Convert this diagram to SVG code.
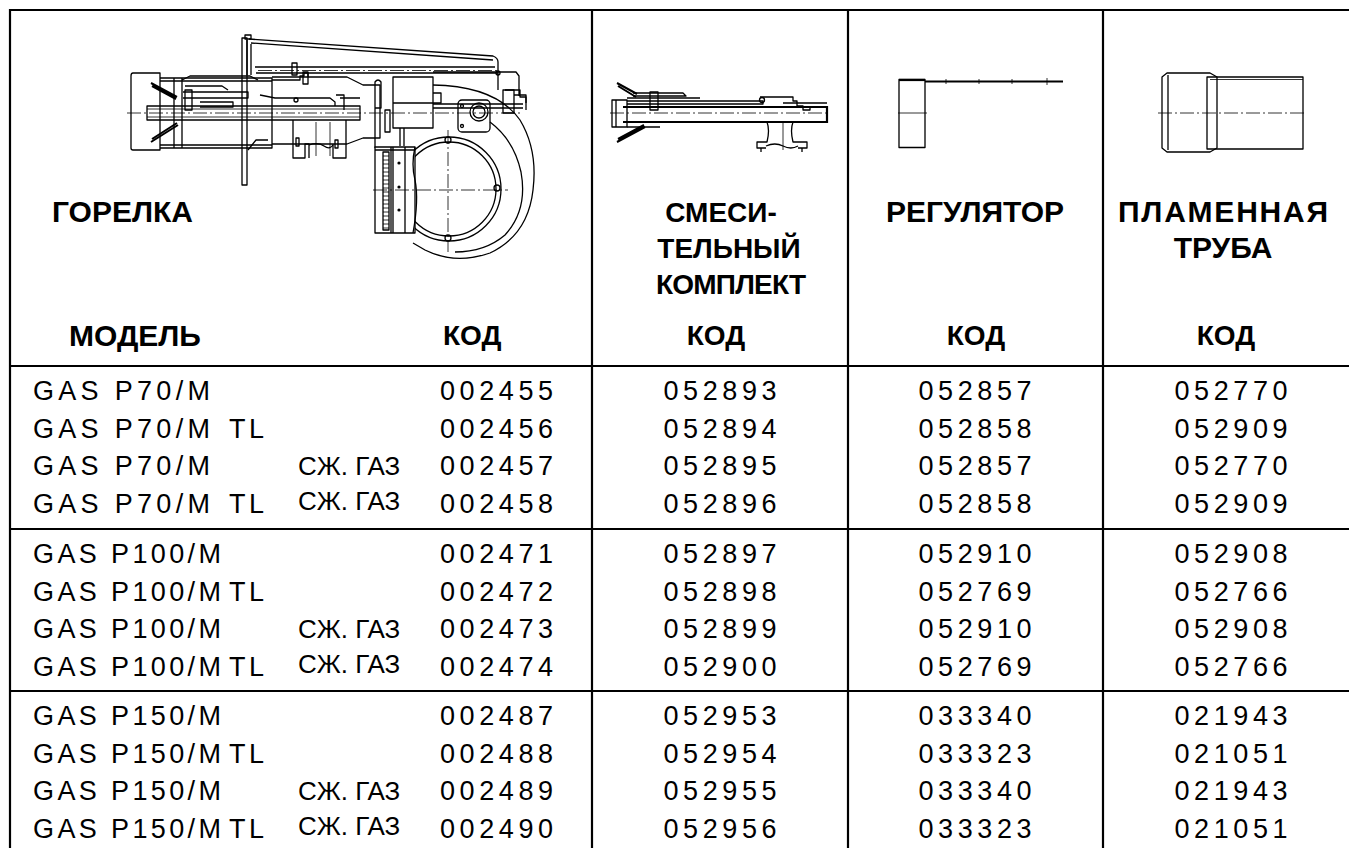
<svg xmlns="http://www.w3.org/2000/svg" width="1349" height="848" viewBox="0 0 1349 848">
<style>
.grid{stroke:#000;stroke-width:2.2;fill:none}
.h{font-family:"Liberation Sans",Arial,sans-serif;font-weight:bold;font-size:30px;fill:#000}
.k{font-family:"Liberation Sans",Arial,sans-serif;font-weight:bold;font-size:28px;fill:#000}
.d{font-family:"Liberation Sans",Arial,sans-serif;font-size:27px;fill:#000}
.g{font-family:"Liberation Sans",Arial,sans-serif;font-size:26px;fill:#000}
.c{text-anchor:middle}
.dr{stroke:#000;stroke-width:1.3;fill:none;stroke-linejoin:round}
.th{stroke:#000;stroke-width:2.2;fill:none}
.tn{stroke:#000;stroke-width:0.8;fill:none}
.cl{stroke:#000;stroke-width:0.8;fill:none;stroke-dasharray:14 3 2 3}
.fw{fill:#fff}
</style>
<rect width="1349" height="848" fill="#fff"/>

<g id="table-grid" class="grid">
<path d="M10 848V10H1349"/>
<path d="M592 10V848M848 10V848M1103 10V848"/>
<path d="M10 366H1349M10 529H1349M10 691H1349"/>
</g>

<g id="burner-drawing">
<rect class="dr" x="242" y="38" width="5" height="147"/>
<rect class="dr" x="245" y="35" width="6" height="4"/>
<path class="dr" d="M247 40V75M251 44V75M248 150L256 140H268"/>
<path class="dr" d="M249 39L493 56Q498 58 498 62V73M251 43L493 60"/>
<circle class="dr" cx="498" cy="73" r="2"/>
<path class="dr" d="M255 67H495M256 73H498"/>
<path class="cl" d="M258 70.5H498"/>
<path class="dr" d="M433 72H516L519 76V96M498 73V90M505 90H520V97H526V103"/>
<path class="dr" d="M133 73H160V150H133Q131 150 131 148V76Q131 73 133 73Z"/>
<path class="dr" d="M160 78H272V148H160"/>
<path class="dr" d="M160 81H272M160 145H272M182 78V148M174 78V148"/>
<path class="dr" d="M182 80L190 76H250L258 80"/>
<path class="th" d="M151 83L177 97M152 86L176 99M151 142L178 125M152 139L177 123" style="stroke-width:2"/>
<path class="dr" d="M147 106H360V120H147Z"/>
<path class="tn" d="M147 109H360M147 117H360"/>
<path class="dr" d="M183 92H248V98H183M200 102H233V107H200"/>
<rect class="dr" x="185" y="90" width="7" height="20"/>
<path class="dr" d="M185 86H222L228 90M260 95L275 98H330L335 102V106"/>
<path class="cl" d="M127 113H520"/>
<path class="dr" d="M272 77H347L363 85H380V138H363L347 144H272"/>
<path class="dr" d="M272 80H300V76H304V73H308V77"/>
<rect class="dr" x="292" y="63" width="5" height="12"/>
<rect class="dr" x="303" y="72" width="5" height="12"/>
<path class="dr" d="M340 98H360M336 95H344V110"/>
<path class="dr" d="M293 120V158H305V144H309V158M346 120V158H333V144"/>
<path class="dr" d="M309 145Q318 142 324 146T333 145"/>
<path class="tn" d="M316 122V156M330 122V156"/>
<rect class="dr" x="296" y="138" width="3" height="8"/>
<rect class="dr" x="335" y="140" width="3" height="8"/>
<circle class="dr" cx="296" cy="100" r="2"/>
<path class="dr" d="M375 148V82Q378 78 381 82V108H375"/>
<rect class="dr" x="385" y="110" width="5" height="22"/>
<rect class="dr" x="393" y="77" width="40" height="51"/>
<path class="dr" d="M393 103H433M433 93H441V103H433"/>
<path class="dr" d="M433 104H523M433 108H523"/>
<path class="dr" d="M400 128V146M404 128V146"/>
<rect class="dr" x="458" y="100" width="32" height="32" rx="4"/>
<circle class="dr" cx="479" cy="112" r="9"/>
<circle class="dr" cx="479" cy="112" r="6"/>
<circle class="dr" cx="462" cy="106" r="1.5"/>
<circle class="dr" cx="462" cy="126" r="1.5"/>
<path class="dr" d="M503 90H514V113H503ZM514 95H526V110"/>
<path class="dr" d="M433 85Q496 86 520 120Q538 150 533 190Q528 235 490 253Q455 265 425 250L413 243"/>
<path class="dr" d="M490 122Q514 140 521 172Q528 210 505 235Q485 252 455 252"/>
<circle class="dr" cx="449" cy="189" r="52"/>
<circle class="dr" cx="449" cy="189" r="47"/>
<rect class="dr fw" x="375" y="147" width="40" height="86"/>
<path class="dr" d="M391 147V233M393 147V233M405 147V233M375 150H415"/>
<path class="dr" d="M383 152V230H389V152Z"/>
<path class="tn" d="M383 156H389M383 160H389M383 164H389M383 168H389M383 172H389M383 176H389M383 180H389M383 184H389M383 188H389M383 192H389M383 196H389M383 200H389M383 204H389M383 208H389M383 212H389M383 216H389M383 220H389M383 224H389M383 228H389"/>
<circle cx="399" cy="163" r="1.6"/>
<circle cx="399" cy="187" r="1.6"/>
<circle cx="399" cy="210" r="1.6"/>
<path class="dr" d="M415 147Q411 165 415 180Q419 200 413 233"/>
<path class="cl" d="M448 130V252M373 190H508"/>
<circle class="dr" cx="448" cy="140" r="3"/>
<circle class="dr" cx="448" cy="238" r="3"/>
<circle class="dr" cx="497" cy="188" r="3"/>
</g>

<g id="mixing-kit-drawing">
<path class="dr" d="M612 100H627V127H612Z"/>
<path class="dr" d="M616 100V127"/>
<path class="th" d="M617 83L637 94M618 86L636 97M617 142L645 127M618 139L644 125" style="stroke-width:2"/>
<path class="th" d="M623 107H827V122H623"/>
<path class="cl" d="M610 113H827"/>
<path class="dr" d="M627 101H763V104H627M633 93H683L686 96H633"/>
<rect class="dr" x="650" y="92" width="8" height="18"/>
<path class="dr" d="M627 98H700M627 127H660"/>
<path class="dr" d="M760 97H793V101H797V106H803V110H810V107"/>
<circle class="dr" cx="762" cy="100" r="2.5"/>
<path class="dr" d="M783 103H827"/>
<path class="dr" d="M767 122Q770 130 767 142H757V148H766M793 122Q790 130 793 142H807V148H798"/>
<path class="dr" d="M766 146Q775 142 783 146T798 146"/>
<path class="tn" d="M783 122V150"/>
<path class="dr" d="M761 148V152M802 148V152"/>
</g>

<g id="regulator-drawing">
<rect class="dr" x="899" y="79.5" width="26" height="68"/>
<path class="th" d="M899 80H925"/>
<path class="th" d="M925 81.5H1063" style="stroke-width:1.8"/>
<path class="tn" d="M946 79V84M979 79V84M1012 79V84M1047 78V85"/>
<path class="tn" d="M898 113H927"/>
</g>

<g id="flame-tube-drawing">
<path class="dr" d="M1162 77L1167 73H1210L1217 77V148L1210 152H1167L1162 148Z"/>
<path class="dr" d="M1168 75V150"/>
<path class="dr" d="M1207 77H1303V149H1207Z"/>
<path class="tn" d="M1210 79.5H1303"/>
<path class="cl" d="M1158 113H1307"/>
</g>

<g id="header-burner">
<text class="h" x="52" y="222">ГОРЕЛКА</text>
<text class="h" x="69" y="346">МОДЕЛЬ</text>
<text class="k" x="443" y="345">КОД</text>
</g>
<g id="header-mixing">
<text class="k c" x="721" y="222">СМЕСИ-</text>
<text class="k c" x="729" y="258">ТЕЛЬНЫЙ</text>
<text class="k c" x="731" y="294" textLength="150">КОМПЛЕКТ</text>
<text class="k c" x="716" y="345">КОД</text>
</g>
<g id="header-regulator">
<text class="h c" x="975" y="222">РЕГУЛЯТОР</text>
<text class="k c" x="976" y="345">КОД</text>
</g>
<g id="header-flame-tube">
<text class="h c" x="1223" y="222" textLength="210">ПЛАМЕННАЯ</text>
<text class="h c" x="1223" y="258">ТРУБА</text>
<text class="k c" x="1226" y="345">КОД</text>
</g>

<g id="models" class="d">
<text x="33" y="400" textLength="177">GAS P70/M</text>
<text x="33" y="437.5" textLength="177">GAS P70/M</text><text x="229" y="437.5" textLength="35">TL</text>
<text x="33" y="475" textLength="177">GAS P70/M</text><text class="g" x="298" y="475">СЖ. ГАЗ</text>
<text x="33" y="512.5" textLength="177">GAS P70/M</text><text x="229" y="512.5" textLength="35">TL</text><text class="g" x="298" y="510">СЖ. ГАЗ</text>
<text x="33" y="563" textLength="188">GAS P100/M</text>
<text x="33" y="600.5" textLength="188">GAS P100/M</text><text x="229" y="600.5" textLength="35">TL</text>
<text x="33" y="638" textLength="188">GAS P100/M</text><text class="g" x="298" y="638">СЖ. ГАЗ</text>
<text x="33" y="675.5" textLength="188">GAS P100/M</text><text x="229" y="675.5" textLength="35">TL</text><text class="g" x="298" y="673">СЖ. ГАЗ</text>
<text x="33" y="725" textLength="188">GAS P150/M</text>
<text x="33" y="762.5" textLength="188">GAS P150/M</text><text x="229" y="762.5" textLength="35">TL</text>
<text x="33" y="800" textLength="188">GAS P150/M</text><text class="g" x="298" y="800">СЖ. ГАЗ</text>
<text x="33" y="837.5" textLength="188">GAS P150/M</text><text x="229" y="837.5" textLength="35">TL</text><text class="g" x="298" y="835">СЖ. ГАЗ</text>
</g>

<g id="burner-codes" class="d">
<text x="440" y="400" textLength="113">002455</text>
<text x="440" y="437.5" textLength="113">002456</text>
<text x="440" y="475" textLength="113">002457</text>
<text x="440" y="512.5" textLength="113">002458</text>
<text x="440" y="563" textLength="113">002471</text>
<text x="440" y="600.5" textLength="113">002472</text>
<text x="440" y="638" textLength="113">002473</text>
<text x="440" y="675.5" textLength="113">002474</text>
<text x="440" y="725" textLength="113">002487</text>
<text x="440" y="762.5" textLength="113">002488</text>
<text x="440" y="800" textLength="113">002489</text>
<text x="440" y="837.5" textLength="113">002490</text>
</g>

<g id="mixing-codes" class="d c">
<text x="720" y="400" textLength="113">052893</text>
<text x="720" y="437.5" textLength="113">052894</text>
<text x="720" y="475" textLength="113">052895</text>
<text x="720" y="512.5" textLength="113">052896</text>
<text x="720" y="563" textLength="113">052897</text>
<text x="720" y="600.5" textLength="113">052898</text>
<text x="720" y="638" textLength="113">052899</text>
<text x="720" y="675.5" textLength="113">052900</text>
<text x="720" y="725" textLength="113">052953</text>
<text x="720" y="762.5" textLength="113">052954</text>
<text x="720" y="800" textLength="113">052955</text>
<text x="720" y="837.5" textLength="113">052956</text>
</g>

<g id="regulator-codes" class="d c">
<text x="975" y="400" textLength="113">052857</text>
<text x="975" y="437.5" textLength="113">052858</text>
<text x="975" y="475" textLength="113">052857</text>
<text x="975" y="512.5" textLength="113">052858</text>
<text x="975" y="563" textLength="113">052910</text>
<text x="975" y="600.5" textLength="113">052769</text>
<text x="975" y="638" textLength="113">052910</text>
<text x="975" y="675.5" textLength="113">052769</text>
<text x="975" y="725" textLength="113">033340</text>
<text x="975" y="762.5" textLength="113">033323</text>
<text x="975" y="800" textLength="113">033340</text>
<text x="975" y="837.5" textLength="113">033323</text>
</g>

<g id="flame-tube-codes" class="d c">
<text x="1231" y="400" textLength="113">052770</text>
<text x="1231" y="437.5" textLength="113">052909</text>
<text x="1231" y="475" textLength="113">052770</text>
<text x="1231" y="512.5" textLength="113">052909</text>
<text x="1231" y="563" textLength="113">052908</text>
<text x="1231" y="600.5" textLength="113">052766</text>
<text x="1231" y="638" textLength="113">052908</text>
<text x="1231" y="675.5" textLength="113">052766</text>
<text x="1231" y="725" textLength="113">021943</text>
<text x="1231" y="762.5" textLength="113">021051</text>
<text x="1231" y="800" textLength="113">021943</text>
<text x="1231" y="837.5" textLength="113">021051</text>
</g>
</svg>
